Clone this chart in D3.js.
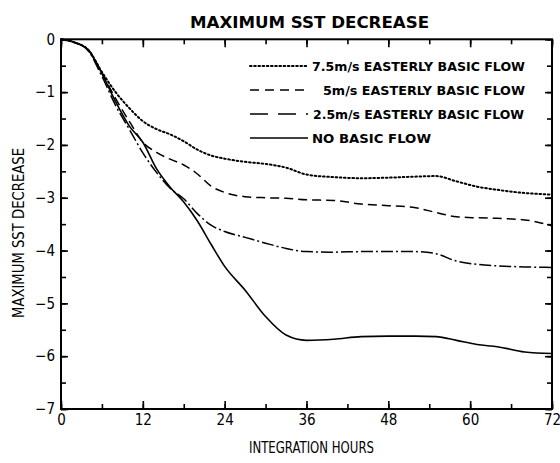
<!DOCTYPE html>
<html><head><meta charset="utf-8">
<script src="https://cdn.jsdelivr.net/npm/d3@7"></script>
<style>body{margin:0;background:#fff}</style>
</head><body><svg id="c" width="560" height="463"></svg>
<script>
// ---- data ----
const hours   = [0, 2, 4, 6, 8, 10, 12, 14, 16, 18, 20, 22, 24, 27, 30, 33, 36, 40, 44, 48, 52, 55, 58, 61, 64, 68, 72];
const east75  = [0,-0.06,-0.20,-0.62,-1.00,-1.30,-1.55,-1.70,-1.80,-1.93,-2.09,-2.20,-2.26,-2.32,-2.36,-2.43,-2.56,-2.61,-2.63,-2.62,-2.60,-2.59,-2.69,-2.79,-2.85,-2.91,-2.94];
const east5   = [0,-0.06,-0.20,-0.64,-1.12,-1.55,-1.95,-2.14,-2.27,-2.38,-2.55,-2.78,-2.90,-2.98,-3.00,-3.01,-3.04,-3.05,-3.12,-3.15,-3.19,-3.28,-3.36,-3.38,-3.39,-3.42,-3.53];
const east25  = [0,-0.06,-0.22,-0.70,-1.25,-1.70,-2.15,-2.52,-2.82,-3.02,-3.30,-3.52,-3.64,-3.75,-3.86,-3.96,-4.02,-4.03,-4.02,-4.02,-4.02,-4.06,-4.20,-4.26,-4.29,-4.31,-4.32];
const noFlow  = [0,-0.06,-0.20,-0.65,-1.18,-1.64,-1.95,-2.45,-2.80,-3.08,-3.44,-3.88,-4.30,-4.75,-5.25,-5.60,-5.70,-5.68,-5.63,-5.62,-5.62,-5.63,-5.70,-5.78,-5.82,-5.92,-5.95];
const xTickLabels = [0, 12, 24, 36, 48, 60, 72];
const yTickLabels = [0, -1, -2, -3, -4, -5, -6, -7];
const legendLabels = ["7.5m/s EASTERLY BASIC FLOW", "5m/s EASTERLY BASIC FLOW", "2.5m/s EASTERLY BASIC FLOW", "NO BASIC FLOW"];
const titleText = "MAXIMUM SST DECREASE";
const xTitle = "INTEGRATION HOURS";
const yTitle = "MAXIMUM SST DECREASE";

// ---- drawing ----
const svg = d3.select("#c");
const L = 61, R = 552, T = 39.3, B = 409;
const x = d3.scaleLinear().domain([0, 72]).range([L, R]);
const y = d3.scaleLinear().domain([0, -7]).range([T, B]);
const narrow = "'Liberation Sans Narrow','DejaVu Sans Condensed','Arial Narrow',sans-serif";
const wide = "'DejaVu Sans',Verdana,sans-serif";

const series = [
  {vals: east75, dash: "1.6,2.6", cap: "round", w: 2.0},
  {vals: east5,  dash: "9,5", cap: "butt", w: 1.5},
  {vals: east25, dash: "12,3,2,3", cap: "butt", w: 1.5},
  {vals: noFlow, dash: null, cap: "butt", w: 1.6}
];

// axes: minor + major ticks, inward
const minorX = d3.range(0, 73, 6), majorX = xTickLabels;
const minorY = d3.range(0, -7.01, -0.5), majorY = yTickLabels;

function styleAxis(g) { g.select(".domain").remove(); g.selectAll("line").attr("stroke", "#000").attr("stroke-width", 1.6); }

svg.append("g").attr("transform", `translate(0,${B})`)
  .call(d3.axisBottom(x).tickValues(minorX).tickSize(-5).tickFormat("")).call(styleAxis);
svg.append("g").attr("transform", `translate(0,${B})`)
  .call(d3.axisBottom(x).tickValues(majorX).tickSize(-8).tickPadding(5).tickFormat(d3.format("d")))
  .call(styleAxis)
  .call(g => g.selectAll("text").attr("font-family", narrow).attr("font-size", 15).attr("fill", "#000"));
svg.append("g").attr("transform", `translate(0,${T})`)
  .call(d3.axisTop(x).tickValues(minorX).tickSize(-5).tickFormat("")).call(styleAxis);
svg.append("g").attr("transform", `translate(0,${T})`)
  .call(d3.axisTop(x).tickValues(majorX).tickSize(-8).tickFormat("")).call(styleAxis);

svg.append("g").attr("transform", `translate(${L},0)`)
  .call(d3.axisLeft(y).tickValues(minorY).tickSize(-5).tickFormat("")).call(styleAxis);
svg.append("g").attr("transform", `translate(${L},0)`)
  .call(d3.axisLeft(y).tickValues(majorY).tickSize(-7).tickPadding(6).tickFormat(d3.format("d")))
  .call(styleAxis)
  .call(g => g.selectAll("text").attr("font-family", narrow).attr("font-size", 15).attr("fill", "#000"));
svg.append("g").attr("transform", `translate(${R},0)`)
  .call(d3.axisRight(y).tickValues(minorY).tickSize(-5).tickFormat("")).call(styleAxis);
svg.append("g").attr("transform", `translate(${R},0)`)
  .call(d3.axisRight(y).tickValues(majorY).tickSize(-7).tickFormat("")).call(styleAxis);

// frame
svg.append("rect").attr("x", L).attr("y", T).attr("width", R - L).attr("height", B - T)
  .attr("fill", "none").attr("stroke", "#000").attr("stroke-width", 2);

// curves
const line = d3.line().x((d, i) => x(hours[i])).y(d => y(d)).curve(d3.curveMonotoneX);
series.forEach(s => {
  svg.append("path").datum(s.vals).attr("d", line)
    .attr("fill", "none").attr("stroke", "#000").attr("stroke-width", s.w)
    .attr("stroke-linecap", s.cap)
    .attr("stroke-dasharray", s.dash);
});

// legend
const legY = [66, 90, 114, 138];
const legTextX = [312, 323, 313, 312];
const legTextLen = [213, 202, 211, 119];
const legDash = ["1.6,2.6", "9,6", "18,10", null];
series.forEach((s, i) => {
  svg.append("line").attr("x1", 250).attr("x2", 308).attr("y1", legY[i]).attr("y2", legY[i])
    .attr("stroke", "#000").attr("stroke-width", s.w).attr("stroke-linecap", s.cap)
    .attr("stroke-dasharray", legDash[i]);
  svg.append("text").attr("x", legTextX[i]).attr("y", legY[i] + 5)
    .attr("font-family", wide).attr("font-weight", "bold").attr("font-size", 13)
    .attr("textLength", legTextLen[i]).attr("lengthAdjust", "spacingAndGlyphs")
    .text(legendLabels[i]);
});

// titles
svg.append("text").attr("x", 190).attr("y", 28)
  .attr("font-family", wide).attr("font-weight", "bold").attr("font-size", 16)
  .attr("textLength", 239).attr("lengthAdjust", "spacingAndGlyphs").text(titleText);
svg.append("text").attr("x", 249).attr("y", 453)
  .attr("font-family", narrow).attr("font-size", 15)
  .attr("textLength", 125).attr("lengthAdjust", "spacingAndGlyphs").text(xTitle);
svg.append("text").attr("transform", "translate(24,318) rotate(-90)")
  .attr("font-family", narrow).attr("font-size", 15)
  .attr("textLength", 170).attr("lengthAdjust", "spacingAndGlyphs").text(yTitle);
</script></body></html>
